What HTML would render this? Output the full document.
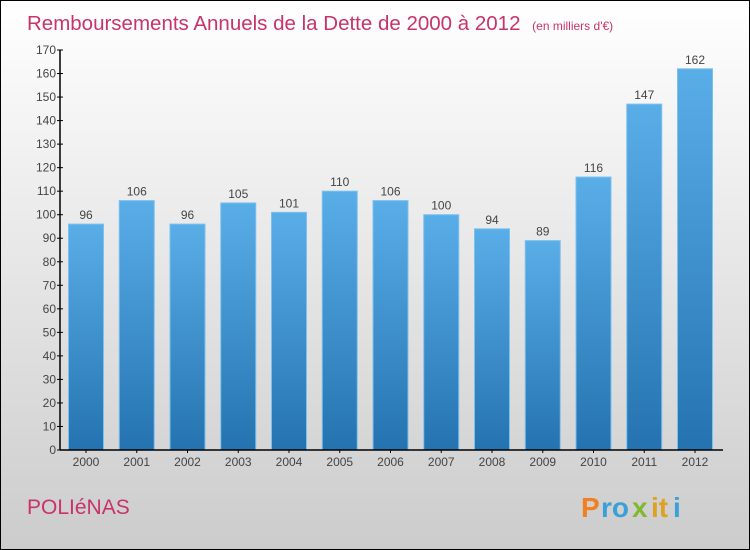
<!DOCTYPE html>
<html><head><meta charset="utf-8"><style>
body{margin:0;}
#wrap{position:relative;width:748px;height:548px;border:1px solid #000;background:linear-gradient(#ffffff,#cccccc);font-family:"Liberation Sans",sans-serif;overflow:hidden}
</style></head><body>
<div id="wrap">
<svg id="chart" width="748" height="548">
<defs><linearGradient id="bg" x1="0" y1="0" x2="0" y2="1"><stop offset="0" stop-color="#5aaee8"/><stop offset="1" stop-color="#2473b0"/></linearGradient></defs>
<text x="26" y="29" font-size="20.5" fill="#c8336a">Remboursements Annuels de la Dette de 2000 à 2012 <tspan font-size="12" dx="6">(en milliers d'€)</tspan></text>
<text x="26" y="513" font-size="21" fill="#c8336a">POLIéNAS</text>
<g font-size="28" font-weight="bold"><text x="580" y="516" fill="#f08020">P</text><text x="600" y="516" fill="#3aa0d8">ro</text><text x="631" y="516" fill="#80b830">x</text><text x="650" y="516" fill="#e0a020">it</text><text x="672" y="516" fill="#3aa0d8">i</text></g>
<g id="plot"></g>
</svg>
</div>
<script>
const categories=["2000","2001","2002","2003","2004","2005","2006","2007","2008","2009","2010","2011","2012"];
const values=[96,106,96,105,101,110,106,100,94,89,116,147,162];
const yTicks=[0,10,20,30,40,50,60,70,80,90,100,110,120,130,140,150,160,170];
const ns="http://www.w3.org/2000/svg";
const g=document.getElementById('plot');
const x0=59,y0=449,yTop=49,yMax=170,step=50.75,bw=35;
const y=v=>y0-(v/yMax)*(y0-yTop);
const xc=i=>x0+26+i*step;
function mk(t,a){const e=document.createElementNS(ns,t);for(const k in a)e.setAttribute(k,a[k]);g.appendChild(e);return e;}
yTicks.forEach(t=>{
 const l=mk('line',{x1:x0-3,x2:x0+3,y1:y(t),y2:y(t),stroke:'#000'});
 
 
 const tx=mk('text',{x:x0-4,y:y(t)+4,'text-anchor':'end','font-size':12,fill:'#444'});
 tx.textContent=t;
 
 
});
values.forEach((v,i)=>{
 const r=mk('rect',{x:xc(i)-bw/2,y:y(v),width:bw,height:y0-y(v),fill:'url(#bg)',stroke:'#7cc0f0','stroke-width':1});
 
 
 const t=mk('text',{x:xc(i),y:y(v)-5,'text-anchor':'middle','font-size':12,fill:'#444'});
 t.textContent=v;
 
 
 const c=mk('text',{x:xc(i),y:y0+16,'text-anchor':'middle','font-size':12,fill:'#444'});
 c.textContent=categories[i];
 
 
 const tk=mk('line',{x1:xc(i),x2:xc(i),y1:y0,y2:y0+3,stroke:'#000'});
 
 
});
const ya=mk('line',{x1:x0,x2:x0,y1:yTop,y2:y0,stroke:'#000','stroke-width':1.5});


const xa=mk('line',{x1:x0,x2:722,y1:y0,y2:y0,stroke:'#000','stroke-width':1.5});


</script>
</body></html>
